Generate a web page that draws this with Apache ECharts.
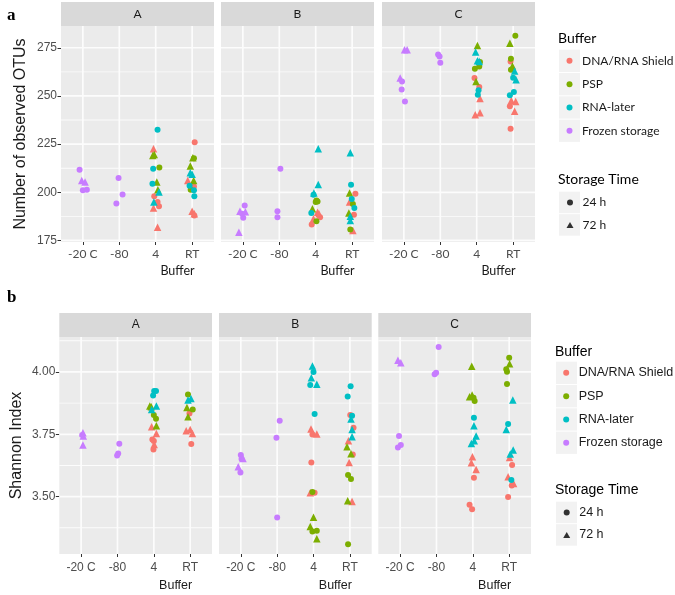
<!DOCTYPE html>
<html><head><meta charset="utf-8">
<script src="https://cdn.jsdelivr.net/npm/echarts@6/dist/echarts.min.js"></script>
<style>html,body{margin:0;padding:0;background:#fff}#c{width:675px;height:595px}</style>
</head><body><div id="c"></div>
<script>
// ---------- data ----------
const categories = ['-20 C', '-80', '4', 'RT'];
const facets = ['A', 'B', 'C'];
const bufferCodes = ['S', 'P', 'L', 'F'];
const bufferNames = ['DNA/RNA Shield', 'PSP', 'RNA-later', 'Frozen storage'];
const storageTimes = ['24 h', '72 h'];
const otuTicks = [175, 200, 225, 250, 275];
const otuMinor = [187.5, 212.5, 237.5, 262.5];
const shannonTicks = [3.50, 3.75, 4.00];
const shannonMinor = [3.375, 3.625, 3.875, 4.125];
// rows: [category index, jitter, buffer, hours, value]
const otuA = [
 [0,-0.09,'F',24,211.7],[0,-0.03,'F',72,206.1],[0,0.06,'F',72,205.3],[0,0,'F',24,201.0],[0,0.11,'F',24,201.3],
 [1,-0.02,'F',24,207.4],[1,0.09,'F',24,198.9],[1,-0.08,'F',24,194.2],
 [2,0.05,'L',24,232.4],[2,-0.06,'S',72,222.6],[2,-0.08,'P',72,219.1],[2,-0.04,'P',72,219.6],[2,-0.07,'L',24,212.2],[2,0.10,'P',24,212.9],[2,-0.09,'L',24,204.4],[2,0.03,'P',72,205.3],[2,0.06,'P',72,201.3],[2,0.09,'L',72,200.1],[2,-0.04,'S',24,198.0],[2,-0.05,'L',72,194.9],[2,0.05,'S',24,194.9],[2,0.09,'S',24,192.8],[2,-0.06,'S',72,191.8],[2,0.05,'S',72,181.9],
 [3,0.07,'S',24,226.0],[3,0.02,'P',72,217.9],[3,0.05,'P',24,217.7],[3,-0.05,'P',72,213.6],[3,-0.05,'L',72,210.1],[3,0,'L',72,209.4],[3,-0.12,'S',72,206.1],[3,0.04,'P',72,206.1],[3,-0.07,'L',24,203.4],[3,0.05,'S',24,203.0],[3,0.05,'L',24,201.0],[3,-0.04,'P',24,201.3],[3,0.06,'L',24,198.0],[3,0,'S',72,190.2],[3,0.06,'S',72,188.8],[3,0.06,'S',24,188.0]
];
const otuB = [
 [0,0.05,'F',24,193.2],[0,-0.08,'F',72,190.2],[0,0.07,'F',72,189.9],[0,-0.02,'F',24,188.8],[0,0.01,'F',24,186.8],[0,-0.11,'F',72,179.3],
 [1,0.03,'F',24,212.2],[1,-0.05,'F',24,190.2],[1,-0.05,'F',24,187.1],
 [2,0.07,'L',72,222.6],[2,0.07,'L',72,204.1],[2,-0.05,'L',72,199.6],[2,-0.06,'L',24,198.7],[2,0.02,'P',24,195.8],[2,0,'P',24,194.9],[2,0.05,'P',24,195.2],[2,-0.09,'P',72,191.4],[2,-0.12,'L',24,189.2],[2,0.05,'S',72,189.7],[2,0.09,'S',72,188.8],[2,-0.06,'S',72,186.3],[2,-0.11,'S',24,183.3],[2,0.02,'P',24,185.0],[2,0.12,'S',24,187.1],
 [3,-0.05,'L',72,220.5],[3,-0.03,'L',24,203.9],[3,-0.07,'P',72,199.6],[3,0.09,'S',24,199.2],[3,-0.01,'L',24,196.5],[3,-0.07,'S',72,194.9],[3,0.02,'P',24,193.9],[3,0.06,'L',24,191.8],[3,-0.09,'P',72,189.2],[3,0.05,'S',24,188.3],[3,-0.05,'L',72,187.6],[3,-0.05,'L',72,185.4],[3,-0.05,'P',24,180.7],[3,0.02,'S',72,180.2]
];
const otuC = [
 [0,0.02,'F',72,274.0],[0,0.09,'F',72,274.0],[0,-0.10,'F',72,259.3],[0,-0.05,'F',24,257.5],[0,-0.06,'F',24,253.4],[0,0.03,'F',24,247.1],
 [1,-0.06,'F',24,271.5],[1,-0.02,'F',24,270.5],[1,0,'F',24,267.2],
 [2,0.02,'P',72,276.2],[2,-0.03,'L',72,272.8],[2,0.02,'L',72,268.3],[2,0.07,'L',72,267.9],[2,0.09,'P',24,267.6],[2,0.07,'P',24,265.3],[2,-0.05,'P',24,264.1],[2,-0.06,'S',24,259.3],[2,-0.02,'P',72,257.5],[2,0.07,'S',24,254.6],[2,0.05,'L',24,252.9],[2,0.03,'L',24,250.6],[2,0.09,'S',72,248.7],[2,-0.04,'S',72,240.2],[2,0.09,'S',72,241.3],
 [3,0.06,'P',24,281.2],[3,-0.09,'P',72,277.4],[3,-0.06,'P',24,269.3],[3,-0.07,'S',24,267.9],[3,-0.02,'P',72,265.5],[3,-0.06,'P',24,263.6],[3,0.04,'L',72,262.9],[3,0,'L',24,259.4],[3,0.08,'L',72,258.4],[3,0.02,'L',24,252.0],[3,-0.09,'L',24,250.3],[3,-0.05,'S',72,247.7],[3,0.07,'S',72,247.1],[3,-0.09,'S',24,244.7],[3,0.04,'S',72,242.0],[3,-0.07,'S',24,233.0]
];
const shanA = [
 [0,0.05,'F',72,3.756],[0,0.06,'F',72,3.743],[0,0.03,'F',24,3.747],[0,0.05,'F',72,3.707],
 [1,0.05,'F',24,3.712],[1,0.02,'F',24,3.673],[1,-0.01,'F',24,3.665],
 [2,0.01,'L',24,3.924],[2,0.06,'L',24,3.924],[2,-0.02,'L',24,3.905],[2,-0.11,'P',72,3.863],[2,-0.07,'P',72,3.860],[2,0.07,'L',72,3.863],[2,-0.06,'L',72,3.849],[2,0,'P',24,3.827],[2,0.06,'P',24,3.812],[2,0.07,'P',72,3.784],[2,-0.06,'S',72,3.780],[2,0.07,'S',72,3.753],[2,-0.04,'S',24,3.729],[2,0,'S',24,3.723],[2,0.01,'S',72,3.709],[2,-0.01,'S',24,3.689],
 [3,-0.06,'P',24,3.909],[3,-0.06,'L',72,3.887],[3,0.02,'L',72,3.893],[3,-0.09,'P',72,3.857],[3,0.07,'P',24,3.849],[3,-0.02,'S',24,3.833],[3,-0.06,'P',72,3.820],[3,-0.11,'S',72,3.764],[3,0,'S',72,3.769],[3,0.06,'S',72,3.753],[3,0.03,'S',24,3.711]
];
const shanB = [
 [0,0,'F',24,3.667],[0,0.02,'F',24,3.651],[0,0.06,'F',72,3.653],[0,-0.07,'F',72,3.620],[0,-0.01,'F',24,3.597],
 [1,0.07,'F',24,3.804],[1,-0.02,'F',24,3.736],[1,0,'F',24,3.416],
 [2,-0.03,'L',72,4.024],[2,0,'L',24,4.000],[2,-0.06,'L',72,3.977],[2,-0.09,'L',24,3.948],[2,0.09,'L',72,3.951],[2,0.03,'L',24,3.831],[2,-0.07,'S',72,3.771],[2,-0.03,'S',24,3.749],[2,0.09,'S',72,3.751],[2,-0.06,'S',24,3.637],[2,-0.09,'S',72,3.516],[2,-0.03,'P',24,3.519],[2,0.03,'S',24,3.516],[2,0,'P',72,3.417],[2,-0.09,'P',72,3.380],[2,-0.03,'P',24,3.360],[2,0.09,'P',24,3.363],[2,0.09,'P',72,3.331],
 [3,0.02,'L',24,3.943],[3,-0.06,'L',24,3.901],[3,0.01,'S',24,3.827],[3,0.06,'L',24,3.824],[3,0.03,'L',72,3.811],[3,0.1,'S',24,3.776],[3,0.06,'L',72,3.769],[3,0.06,'L',72,3.740],[3,-0.04,'S',72,3.724],[3,-0.08,'P',72,3.700],[3,0.03,'P',72,3.672],[3,0.08,'S',24,3.669],[3,-0.02,'S',72,3.637],[3,-0.05,'P',24,3.587],[3,0.03,'P',24,3.571],[3,-0.06,'P',72,3.483],[3,0.06,'S',72,3.480],[3,-0.05,'P',24,3.309]
];
const shanC = [
 [0,-0.06,'F',72,4.047],[0,0.02,'F',72,4.037],[0,-0.03,'F',24,3.743],[0,0.02,'F',24,3.707],[0,-0.06,'F',24,3.697],
 [1,0.06,'F',24,4.100],[1,-0.05,'F',24,3.991],[1,-0.01,'F',24,3.997],
 [2,-0.03,'P',72,4.023],[2,-0.09,'P',72,3.900],[2,-0.02,'P',72,3.907],[2,0.02,'P',24,3.896],[2,0.05,'P',24,3.883],[2,0.03,'L',24,3.816],[2,0.03,'L',72,3.784],[2,0.09,'L',72,3.743],[2,0.04,'L',72,3.724],[2,-0.04,'L',72,3.713],[2,-0.01,'S',72,3.660],[2,-0.04,'S',72,3.636],[2,0.09,'S',72,3.609],[2,0.03,'S',24,3.576],[2,-0.09,'S',24,3.467],[2,-0.02,'S',24,3.449],
 [3,0,'P',24,4.057],[3,0.01,'P',72,4.033],[3,-0.08,'P',24,4.011],[3,-0.06,'P',24,4.001],[3,-0.06,'P',24,3.952],[3,0.1,'L',72,3.887],[3,-0.03,'L',24,3.791],[3,-0.08,'L',72,3.769],[3,0.11,'L',72,3.687],[3,0.03,'L',72,3.671],[3,0.01,'S',72,3.657],[3,0.08,'S',24,3.627],[3,-0.03,'S',72,3.580],[3,0.06,'L',24,3.567],[3,0.07,'S',24,3.545],[3,0.12,'S',72,3.553],[3,-0.03,'S',24,3.499]
];

// ---------- layout / style ----------
const colors = {S:'#F8766D', P:'#7CAE00', L:'#00BFC4', F:'#C77CFF'};
const GRID_LINE = '#FCFCFC';
const FONT_T = 'Lato, "Open Sans", sans-serif';
const FONT_B = '"Liberation Sans", Arial, sans-serif';
const X_MIN = 0.4, X_MAX = 4.6, X_MID = 2.5;
const rows = [
  {data:[otuA, otuB, otuC], ticks:otuTicks, minor:otuMinor, min:174.2, max:286.3, title:'Number of observed OTUs',
   top:26, h:216, lefts:[61,221,382], w:153, font:FONT_T, fmt:v=>String(v), nameGap:22, xMargin:6, yNameGap:32},
  {data:[shanA, shanB, shanC], ticks:shannonTicks, minor:shannonMinor, min:3.27, max:4.14, title:'Shannon Index',
   top:337, h:217, lefts:[59.3,219,378.3], w:152.7, font:FONT_B, fmt:v=>v.toFixed(2), nameGap:25, xMargin:8, yNameGap:35}
];

const grid = [], xAxis = [], yAxis = [], series = [], graphic = [];
let gi = 0;
rows.forEach((r, ri) => {
  facets.forEach((f, fi) => {
    grid.push({left:r.lefts[fi], top:r.top, width:r.w, height:r.h, show:true, backgroundColor:'#EBEBEB', borderWidth:0, z:0});
    xAxis.push({gridIndex:gi, type:'value', min:X_MIN, max:X_MAX,
      axisLine:{show:false}, splitLine:{show:false},
      axisTick:{show:true, customValues:[1,2,3,4], length:3, lineStyle:{color:'#333', width:1}},
      axisLabel:{customValues:[1,2,3,4], formatter:v=>categories[Math.round(v)-1], color:'#4D4D4D', fontSize:12, margin:r.xMargin, fontFamily:r.font},
      name:'Buffer', nameLocation:'middle', nameGap:r.nameGap,
      nameTextStyle:{color:'#1A1A1A', fontSize:12.5, fontFamily:r.font, padding:[0,0,0,80]}
    });
    yAxis.push({gridIndex:gi, type:'value', min:r.min, max:r.max,
      axisLine:{show:false}, splitLine:{show:false},
      axisTick:{show:fi===0, customValues:r.ticks, length:3.5, lineStyle:{color:'#333', width:1}},
      axisLabel:{show:fi===0, customValues:r.ticks, formatter:r.fmt, color:'#4D4D4D', fontSize:12, margin:4, fontFamily:FONT_B},
      name: fi===0 ? r.title : '', nameLocation:'middle', nameGap:r.yNameGap,
      nameTextStyle:{color:'#1A1A1A', fontSize:16, fontFamily:FONT_B}
    });
    // panel grid lines: thin bar symbols placed at the axis values
    const yMid = (r.min + r.max) / 2;
    const gridMarks = [];
    r.minor.forEach(v => gridMarks.push({value:[X_MID, v], symbolSize:[r.w, 0.9]}));
    r.ticks.forEach(v => gridMarks.push({value:[X_MID, v], symbolSize:[r.w, 1.7]}));
    [1, 2, 3, 4].forEach(v => gridMarks.push({value:[v, yMid], symbolSize:[1.7, r.h]}));
    series.push({type:'scatter', name:'grid' + gi, xAxisIndex:gi, yAxisIndex:gi, z:5, animation:false,
      symbol:'rect', data:gridMarks, clip:false, tooltip:{show:false},
      itemStyle:{color:GRID_LINE, opacity:1}, emphasis:{disabled:true}});
    // points
    bufferCodes.forEach((bc, bi) => {
      const pts = r.data[fi].filter(p => p[2] === bc).map(p => [p[0] + 1 + p[1], p[4], p[3]]);
      series.push({type:'scatter', name:bufferNames[bi], xAxisIndex:gi, yAxisIndex:gi, z:10,
        data:pts, animation:false,
        symbol:v => v[2] === 72 ? 'triangle' : 'circle',
        symbolSize:v => v[2] === 72 ? 7.5 : 6,
        itemStyle:{color:colors[bc], opacity:1}});
    });
    graphic.push({type:'rect', shape:{x:r.lefts[fi], y:r.top-24, width:r.w, height:24}, style:{fill:'#D9D9D9'}, silent:true});
    graphic.push({type:'text', x:r.lefts[fi]+r.w/2, y:r.top-12, style:{text:f, fill:'#1A1A1A', font:'12px ' + r.font, textAlign:'center', textVerticalAlign:'middle'}, silent:true});
    gi++;
  });
});
series.push({type:'scatter', name:'24 h', data:[], symbol:'circle', itemStyle:{color:'#000'}});
series.push({type:'scatter', name:'72 h', data:[], symbol:'triangle', itemStyle:{color:'#000'}});

const legCfg = [
  {left:566.5, bufTop:49.2, timeTop:191.2, titleX:558, bufTitle:38, timeTitle:179, boxX:559, font:FONT_T, fs:12},
  {left:563.2, bufTop:361.2, timeTop:501.2, titleX:555, bufTitle:351.7, timeTitle:490, boxX:556, font:FONT_B, fs:12.5}
];
const legend = [];
legCfg.forEach(c => {
  legend.push({orient:'vertical', left:c.left, top:c.bufTop, padding:0, itemGap:0, itemWidth:7, itemHeight:6,
    data:bufferNames.map(n => ({name:n, icon:'circle'})), selectedMode:false,
    textStyle:{fontSize:c.fs, color:'#1A1A1A', lineHeight:23.3, fontFamily:c.font, padding:[0,0,0,4]}});
  legend.push({orient:'vertical', left:c.left, top:c.timeTop, padding:0, itemGap:0, itemWidth:7, itemHeight:6,
    data:[{name:'24 h', icon:'circle'}, {name:'72 h', icon:'triangle'}], selectedMode:false,
    textStyle:{fontSize:c.fs, color:'#1A1A1A', lineHeight:22.5, fontFamily:c.font, padding:[0,0,0,4]}});
  for (let i = 0; i < 4; i++) graphic.push({type:'rect', z:-1, shape:{x:c.boxX, y:c.bufTop+23.3*i+0.5, width:21, height:22.3}, style:{fill:'#F2F2F2'}, silent:true});
  for (let i = 0; i < 2; i++) graphic.push({type:'rect', z:-1, shape:{x:c.boxX, y:c.timeTop+22.5*i+0.5, width:21, height:21.5}, style:{fill:'#F2F2F2'}, silent:true});
  graphic.push({type:'text', x:c.titleX, y:c.bufTitle, style:{text:'Buffer', fill:'#000', font:'14px ' + c.font, textVerticalAlign:'middle'}, silent:true});
  graphic.push({type:'text', x:c.titleX, y:c.timeTitle, style:{text:'Storage Time', fill:'#000', font:'14px ' + c.font, textVerticalAlign:'middle'}, silent:true});
});
graphic.push({type:'text', x:7, y:16, style:{text:'a', fill:'#000', font:'bold 17px "Liberation Serif", serif', textVerticalAlign:'middle'}, silent:true});
graphic.push({type:'text', x:7, y:298, style:{text:'b', fill:'#000', font:'bold 17px "Liberation Serif", serif', textVerticalAlign:'middle'}, silent:true});

const chart = echarts.init(document.getElementById('c'), null, {renderer:'canvas'});
chart.setOption({backgroundColor:'#fff', animation:false, grid, xAxis, yAxis, series, legend, graphic});
</script></body></html>
